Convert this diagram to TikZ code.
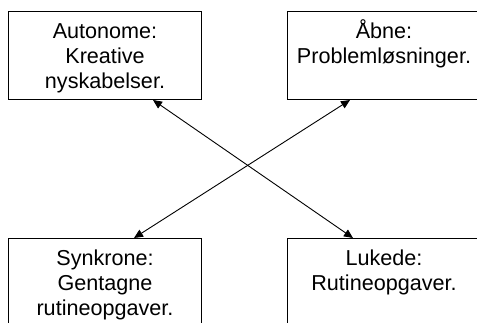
\documentclass[tikz,border=0pt]{standalone}
\usepackage{fontspec}
\setmainfont{Liberation Sans}
\usetikzlibrary{arrows.meta,positioning}

\begin{document}
\begin{tikzpicture}[x=1pt, y=-1pt, line width=0.9pt,
  blk/.style={draw, line width=1pt, anchor=north west, text width=185pt, inner xsep=4pt, inner ysep=0pt,
    align=center, text height=26.5pt, text depth=61.5pt, font=\fontsize{21.6}{25}\selectfont},
  dbl/.style={{Triangle[length=9pt,width=8pt]}-{Triangle[length=9pt,width=8pt]}}]
\useasboundingbox (0,0) rectangle (477,322);
\clip (0,0) rectangle (477,322);
% four boxes; the right and lower ones run past the frame
\node[blk] (auto) at (8,11)    {Autonome:\\Kreative\\nyskabelser.};
\node[blk] (aab)  at (287,11)  {Åbne:\\Problemløsninger.};
\node[blk] (synk) at (8,238)   {Synkrone:\\Gentagne\\rutineopgaver.};
\node[blk] (luk)  at (287,238) {Lukede:\\Rutineopgaver.};
% crossing double arrows
\draw[dbl] ([xshift=-49pt]auto.south east) -- ([xshift=66pt]luk.north west);
\draw[dbl] ([xshift=63pt]aab.south west) -- ([xshift=-68pt]synk.north east);
\end{tikzpicture}
\end{document}
